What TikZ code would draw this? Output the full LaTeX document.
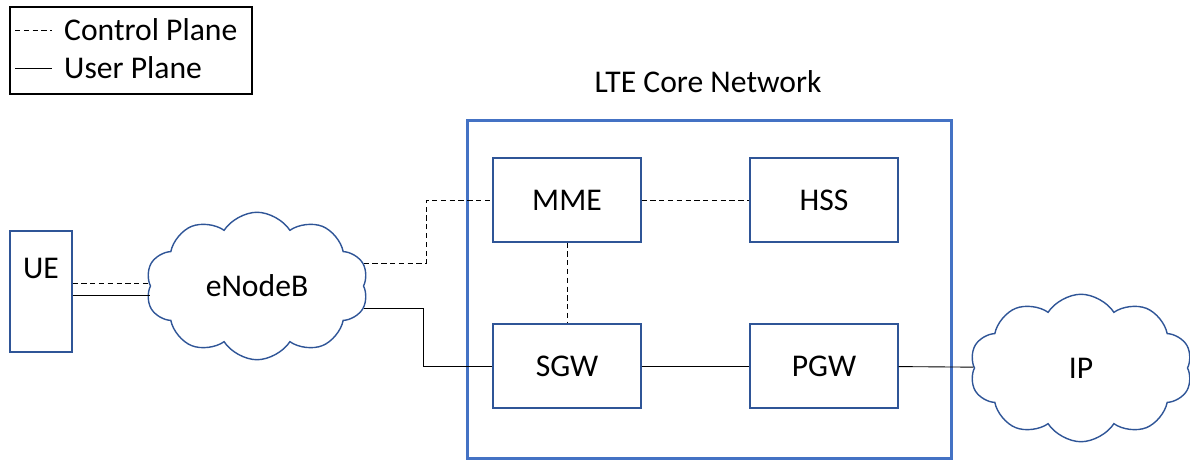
\documentclass[tikz,border=0pt]{standalone}
\usepackage{fontspec}
\setmainfont{Carlito}
\usetikzlibrary{shapes.symbols}
\definecolor{coreblue}{HTML}{4472C4}
\definecolor{boxblue}{HTML}{2F5597}
\tikzset{
  elem/.style={draw=boxblue,line width=0.7pt,minimum width=2.96cm,minimum height=1.68cm,font=\fontsize{18}{21}\selectfont},
  netcloud/.style={cloud,cloud puffs=10,cloud puff arc=115,aspect=1.55,draw=boxblue,line width=0.8pt,minimum width=4.45cm,minimum height=2.95cm,font=\fontsize{18}{21}\selectfont},
  ctrl/.style={draw=black,line width=0.5pt,dash pattern=on 3pt off 2pt},
  user/.style={draw=black,line width=0.5pt},
}
\begin{document}
\begin{tikzpicture}[x=0.02cm,y=-0.02cm]
\useasboundingbox (0,0) rectangle (1190,462);
% Legend
\node[draw,line width=0.6pt,minimum width=4.84cm,minimum height=1.74cm] (legend) at (131,50.5) {};
\coordinate (cpa) at (15,30);
\coordinate (cpb) at (52,30);
\coordinate (upa) at (15,68);
\coordinate (upb) at (52,68);
\draw[ctrl] (cpa) -- (cpb);
\draw[user] (upa) -- (upb);
\node[anchor=west,font=\fontsize{18}{21}\selectfont] (cptxt) at (58,30) {Control Plane};
\node[anchor=west,font=\fontsize{18}{21}\selectfont] (uptxt) at (58,68) {User Plane};
% LTE core
\node[font=\fontsize{18}{21}\selectfont] (coretxt) at (708,82) {LTE Core Network};
\node[draw=coreblue,line width=1.7pt,minimum width=9.7cm,minimum height=6.78cm] (core) at (709.5,289.5) {};
\node[elem] (mme) at (567,200) {MME};
\node[elem] (hss) at (824,200) {HSS};
\node[elem] (sgw) at (567,366) {SGW};
\node[elem] (pgw) at (824,366) {PGW};
% UE and clouds
\node[draw=boxblue,line width=0.7pt,minimum width=1.24cm,minimum height=2.42cm] (ue) at (41,291.5) {};
\node[font=\fontsize{18}{21}\selectfont] (uetxt) at (41,268) {UE};
\node[netcloud] (enb) at (257,286) {eNodeB};
\node[netcloud] (ip) at (1081,368) {IP};
% Links
\draw[ctrl] ([yshift=0.17cm]ue.east) -- ([yshift=0.17cm]ue.east -| enb.west);
\draw[user] ([yshift=-0.07cm]ue.east) -- ([yshift=-0.07cm]ue.east -| enb.west);
\draw[ctrl] (enb.12) -| ([xshift=-1.32cm]mme.west) -- (mme.west);
\draw[user] (enb.-12) -| ([xshift=-1.38cm]sgw.west) -- (sgw.west);
\draw[ctrl] (mme) -- (sgw);
\draw[ctrl] (mme) -- (hss);
\draw[user] (sgw) -- (pgw);
\draw[user] (pgw) -- (ip);
\end{tikzpicture}
\end{document}
